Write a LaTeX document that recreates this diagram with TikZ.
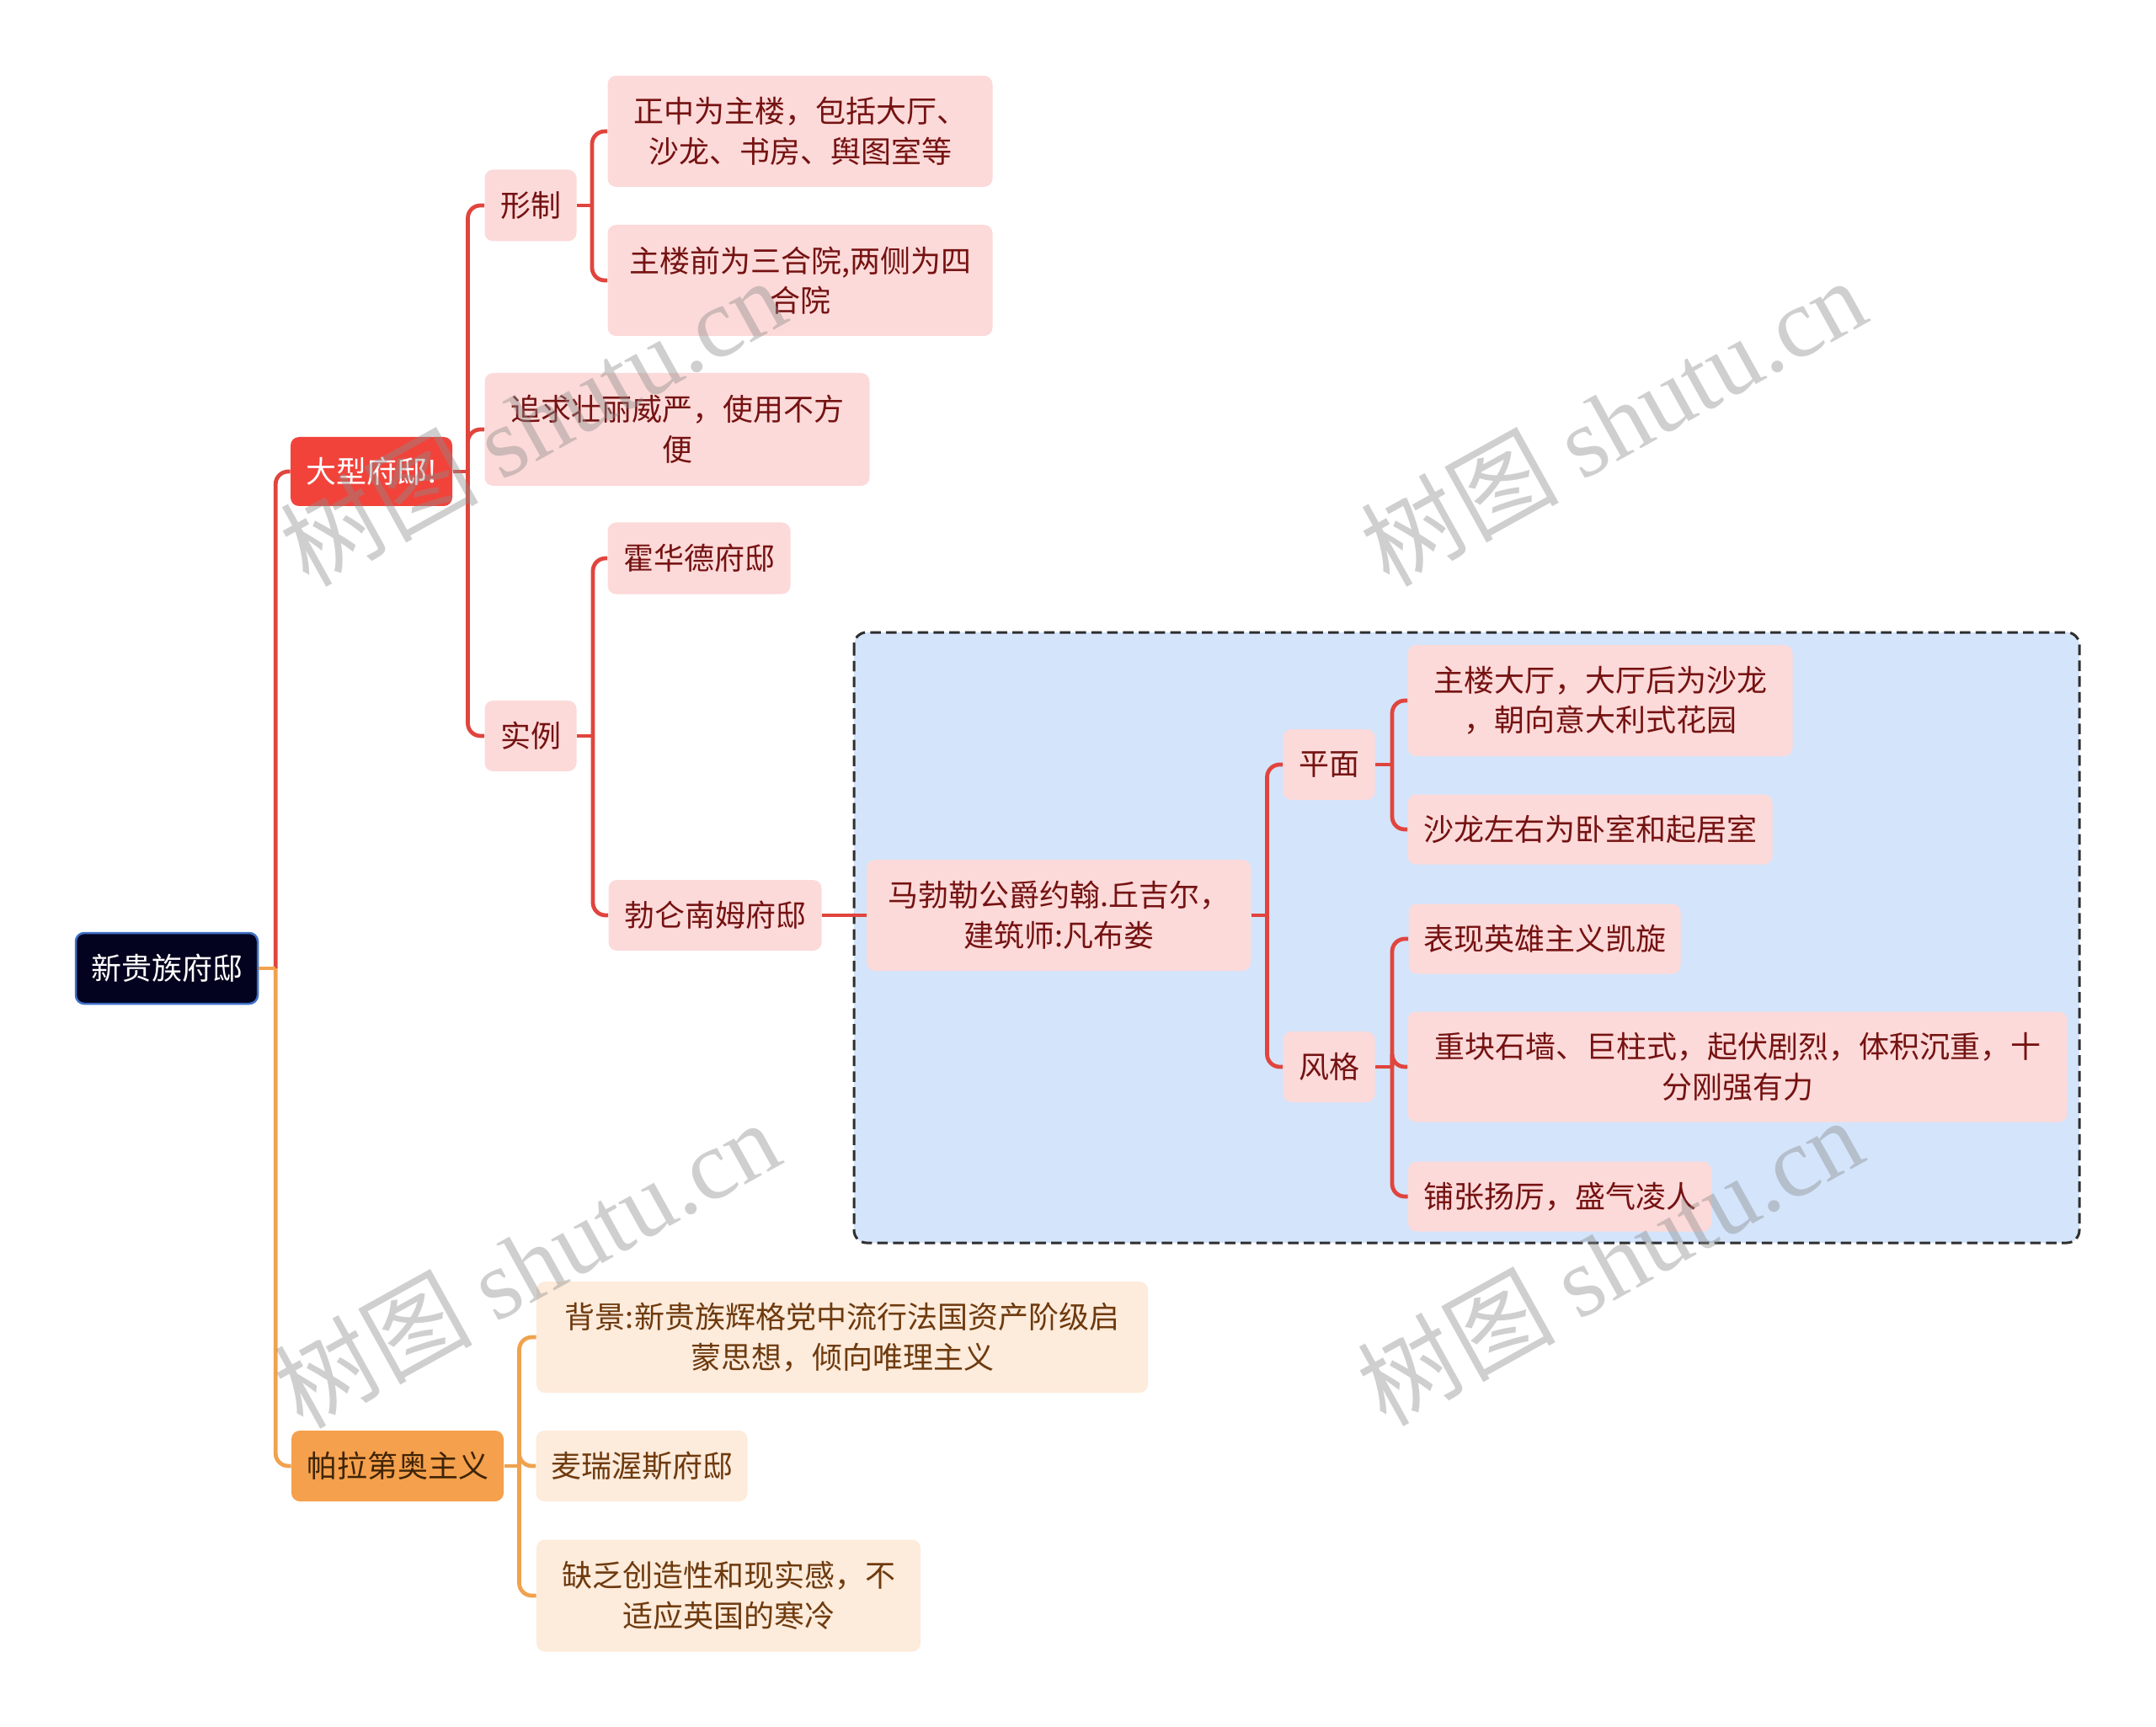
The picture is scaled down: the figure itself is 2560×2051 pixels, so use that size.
\documentclass[tikz,border=0pt]{standalone}
\usepackage{fontspec}
\setmainfont{Noto Sans CJK SC}
\newfontfamily\wmlat{Liberation Serif}
\usetikzlibrary{calc}
\definecolor{pkfill}{HTML}{FCDAD9}
\definecolor{pktext}{HTML}{751212}
\definecolor{redln}{HTML}{E0453D}
\definecolor{bigred}{HTML}{F2433B}
\definecolor{rootfill}{HTML}{03031F}
\definecolor{rootdraw}{HTML}{3E6FC6}
\definecolor{orln}{HTML}{F0A24E}
\definecolor{orfill}{HTML}{F5A04C}
\definecolor{ortext}{HTML}{3F2408}
\definecolor{lofill}{HTML}{FDEBDB}
\definecolor{lotext}{HTML}{6E3A0E}
\definecolor{bluefill}{HTML}{D4E4FB}
\definecolor{dashcol}{HTML}{2E2E2E}
\begin{document}
\begin{tikzpicture}[x=0.4pt,y=-0.4pt,
  wh/.style 2 args={minimum width=#1*0.4pt, minimum height=#2*0.4pt},
  boxbase/.style={rectangle, rounded corners=4pt, inner sep=0pt, align=center,
    font=\fontsize{14.4pt}{19pt}\selectfont},
  pk/.style={boxbase, fill=pkfill, text=pktext},
  lo/.style={boxbase, fill=lofill, text=lotext},
  rootbox/.style={boxbase, fill=rootfill, draw=rootdraw, line width=1pt, text=white},
  bigbox/.style={boxbase, fill=bigred, text=white},
  palbox/.style={boxbase, fill=orfill, text=ortext},
  redline/.style={draw=redln, line width=1.9pt, rounded corners=6pt},
  orline/.style={draw=orln, line width=1.9pt, rounded corners=6pt},
  grpbox/.style={draw=dashcol, fill=bluefill, line width=1.2pt, dash pattern=on 5pt off 2.5pt, rounded corners=6pt},
  wm/.style={text=black!45, opacity=0.42, inner sep=0pt, font=\fontsize{47pt}{47pt}\selectfont},
]
\useasboundingbox (0,0) rectangle (2560,2051);

% group background
\draw[grpbox] (1014,751) rectangle (2469,1476);

% nodes
\node[rootbox, wh={216}{84}] (root) at (198,1150) {新贵族府邸};
\node[bigbox, wh={192}{82}] (big) at (441,560) {大型府邸!};
\node[pk, wh={109}{85}] (xz) at (630,244) {形制};
\node[pk, wh={457}{134}] (zq) at (804,510) {追求壮丽威严，使用不方\\便};
\node[pk, wh={109}{84}] (sl) at (630,874) {实例};
\node[pk, wh={457}{132}] (zz) at (950,156) {正中为主楼，包括大厅、\\沙龙、书房、舆图室等};
\node[pk, wh={457}{132}] (zl) at (950,333) {主楼前为三合院,两侧为四\\合院};
\node[pk, wh={217}{85}] (hh) at (830,663) {霍华德府邸};
\node[pk, wh={253}{84}] (bl) at (849,1087) {勃仑南姆府邸};
\node[pk, wh={456}{132}] (mb) at (1257,1087) {马勃勒公爵约翰.丘吉尔，\\建筑师:凡布娄};
\node[pk, wh={109}{84}] (pm) at (1578,908) {平面};
\node[pk, wh={109}{84}] (fg) at (1578,1267) {风格};
\node[pk, wh={457}{132}] (zd) at (1900,832) {主楼大厅，大厅后为沙龙\\，朝向意大利式花园};
\node[pk, wh={433}{83}] (sz) at (1888,985) {沙龙左右为卧室和起居室};
\node[pk, wh={323}{83}] (bx) at (1834,1115) {表现英雄主义凯旋};
\node[pk, wh={783}{131}] (zk) at (2063,1267) {重块石墙、巨柱式，起伏剧烈，体积沉重，十\\分刚强有力};
\node[pk, wh={360}{83}] (pz) at (1852,1421) {铺张扬厉，盛气凌人};
\node[palbox, wh={252}{84}] (pal) at (472,1741) {帕拉第奥主义};
\node[lo, wh={726}{132}] (bj) at (1000,1588) {背景:新贵族辉格党中流行法国资产阶级启\\蒙思想，倾向唯理主义};
\node[lo, wh={251}{84}] (mr) at (762,1741) {麦瑞渥斯府邸};
\node[lo, wh={456}{133}] (qf) at (865,1895) {缺乏创造性和现实感，不\\适应英国的寒冷};

% junctions
\coordinate (j0) at ($(root.east)+(20,0)$);
\coordinate (j1) at ($(big.east)+(18,0)$);
\coordinate (j2) at ($(xz.east)+(18,0)$);
\coordinate (j3) at ($(sl.east)+(19,0)$);
\coordinate (j4) at ($(mb.east)+(19,0)$);
\coordinate (j5) at ($(pm.east)+(20,0)$);
\coordinate (j6) at ($(fg.east)+(20,0)$);
\coordinate (j7) at ($(pal.east)+(18,0)$);

% connectors
\draw[redline] (j0) |- (big.west);
\draw[orline] (j0) |- (pal.west);
\draw[orline] (root.east) -- (j0);

\draw[redline] (big.east) -- (j1);
\draw[redline] (j1) |- (xz.west);
\draw[redline] (j1) |- (zq.west);
\draw[redline] (j1) |- (sl.west);

\draw[redline] (xz.east) -- (j2);
\draw[redline] (j2) |- (zz.west);
\draw[redline] (j2) |- (zl.west);

\draw[redline] (sl.east) -- (j3);
\draw[redline] (j3) |- (hh.west);
\draw[redline] (j3) |- (bl.west);

\draw[redline] (bl.east) -- (mb.west);

\draw[redline] (mb.east) -- (j4);
\draw[redline] (j4) |- (pm.west);
\draw[redline] (j4) |- (fg.west);

\draw[redline] (pm.east) -- (j5);
\draw[redline] (j5) |- (zd.west);
\draw[redline] (j5) |- (sz.west);

\draw[redline] (fg.east) -- (j6);
\draw[redline] (j6) |- (bx.west);
\draw[redline] (j6) |- (zk.west);
\draw[redline] (j6) |- (pz.west);

\draw[orline] (pal.east) -- (j7);
\draw[orline] (j7) |- (bj.west);
\draw[orline] (j7) |- (mr.west);
\draw[orline] (j7) |- (qf.west);

% watermarks
\node[wm, rotate=29] (wm1) at (632,500) {树图 {\wmlat shutu.cn}};
\node[wm, rotate=29] (wm2) at (1915,500) {树图 {\wmlat shutu.cn}};
\node[wm, rotate=29] (wm3) at (625,1500) {树图 {\wmlat shutu.cn}};
\node[wm, rotate=29] (wm4) at (1911,1497) {树图 {\wmlat shutu.cn}};
\end{tikzpicture}
\end{document}
